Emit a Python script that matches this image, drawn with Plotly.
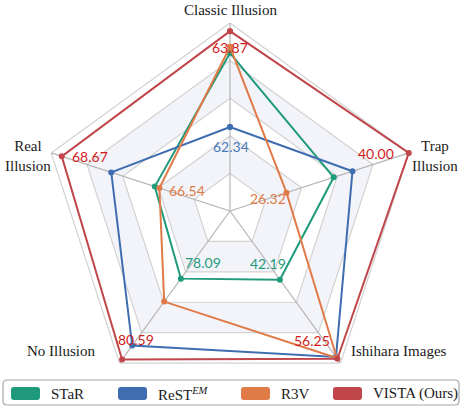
import plotly.graph_objects as go
import math

# Benchmark axes (clockwise from the top) and the value range shown on each spoke
axes = ["Classic Illusion", "Trap Illusion", "Ishihara Images", "No Illusion", "Real Illusion"]
axis_lo = [61.0, 20.0, 30.0, 76.0, 65.0]
axis_hi = [64.0, 40.0, 57.0, 80.7, 68.9]

# Accuracy of each method on each axis
methods = ["STaR", "ReST<sup><i>EM</i></sup>", "R3V", "VISTA (Ours)"]
star = [63.52, 31.60, 42.19, 78.09, 66.64]
rest_em = [62.34, 33.70, 55.90, 80.16, 67.59]
r3v = [63.62, 26.32, 56.10, 78.80, 66.54]
vista = [63.87, 40.00, 56.25, 80.59, 68.67]
series = [star, rest_em, r3v, vista]

line_colors = ["#1f9a7a", "#3f6eb0", "#e07a47", "#c0464b"]
text_colors = ["#1f9a7a", "#4a7ab8", "#e07a47", "#d01c1c"]

# Annotated values: (series index, axis index, x offset px, y offset px)
value_labels = [
    (3, 0, 0, 16), (1, 0, 1, 19),
    (3, 1, -33, 1), (2, 1, -19, 6),
    (3, 2, -25, -18), (0, 2, -12, -16),
    (3, 3, 14, -20), (0, 3, 22, -16),
    (3, 4, 28, 0), (2, 4, 28, 2),
]

W, H = 461, 408
CX, CY, R = 230, 211, 188
angles = [i * 72 for i in range(len(axes))]
closed = angles + [angles[0]]


def norm(vals):
    return [(v - lo) / (hi - lo) for v, lo, hi in zip(vals, axis_lo, axis_hi)]


def to_paper(px, py):
    return px / W, 1 - py / H


fig = go.Figure()

# alternating background bands
for level, col in [(0.8, "#f2f4fa"), (0.6, "#ffffff"), (0.4, "#f2f4fa"), (0.2, "#ffffff")]:
    fig.add_trace(go.Scatterpolar(r=[level] * 6, theta=closed, mode="lines", fill="toself",
                                  fillcolor=col, line=dict(width=0), hoverinfo="skip",
                                  showlegend=False))
# ring grid
for level in [0.2, 0.4, 0.6, 0.8, 1.0]:
    fig.add_trace(go.Scatterpolar(r=[level] * 6, theta=closed, mode="lines",
                                  line=dict(color="#d2d2d2", width=1.2), hoverinfo="skip",
                                  showlegend=False))
# spokes
for a in angles:
    fig.add_trace(go.Scatterpolar(r=[0, 1], theta=[a, a], mode="lines",
                                  line=dict(color="#b4b4b4", width=1.2), hoverinfo="skip",
                                  showlegend=False))

for name, vals, col in zip(methods, series, line_colors):
    rn = norm(vals)
    fig.add_trace(go.Scatterpolar(r=rn + [rn[0]], theta=closed, mode="lines+markers", name=name,
                                  line=dict(color=col, width=2), marker=dict(color=col, size=6),
                                  showlegend=False))

annotations = []
for si, ai, dx, dy in value_labels:
    v = series[si][ai]
    rn = norm(series[si])[ai]
    th = math.radians(angles[ai])
    px = CX + R * rn * math.sin(th) + dx
    py = CY - R * rn * math.cos(th) + dy
    x, y = to_paper(px, py)
    annotations.append(dict(x=x, y=y, xref="paper", yref="paper", text=f"{v:.2f}",
                            showarrow=False, xanchor="center", yanchor="middle",
                            font=dict(family="Lato", size=14, color=text_colors[si])))

# axis titles
axis_titles = [
    ("Classic Illusion", 230, 10),
    ("Trap<br>Illusion", 435, 156),
    ("Ishihara Images", 399, 351),
    ("No Illusion", 61, 351),
    ("Real<br>Illusion", 28, 156),
]
for txt, px, py in axis_titles:
    x, y = to_paper(px, py)
    annotations.append(dict(x=x, y=y, xref="paper", yref="paper", text=txt, showarrow=False,
                            xanchor="center", yanchor="middle", align="center",
                            font=dict(family="Liberation Serif", size=15, color="#1a1a1a")))

# legend box
shapes = []


def rounded_rect(x0, y0, x1, y1, rad):
    pts = []
    def p(px, py):
        x, y = to_paper(px, py)
        return f"{x:.5f},{y:.5f}"
    path = (f"M{p(x0 + rad, y0)} L{p(x1 - rad, y0)} Q{p(x1, y0)} {p(x1, y0 + rad)} "
            f"L{p(x1, y1 - rad)} Q{p(x1, y1)} {p(x1 - rad, y1)} L{p(x0 + rad, y1)} "
            f"Q{p(x0, y1)} {p(x0, y1 - rad)} L{p(x0, y0 + rad)} Q{p(x0, y0)} {p(x0 + rad, y0)} Z")
    return path


shapes.append(dict(type="path", xref="paper", yref="paper", path=rounded_rect(3, 380, 459, 405, 4),
                   line=dict(color="#a8a8a8", width=1.2), fillcolor="white"))
swatch_x = [11, 118, 241, 333]
for sx, name, col in zip(swatch_x, methods, line_colors):
    shapes.append(dict(type="path", xref="paper", yref="paper",
                       path=rounded_rect(sx, 387, sx + 29, 400, 3),
                       line=dict(width=0), fillcolor=col))
    x, y = to_paper(sx + 38, 393.5)
    annotations.append(dict(x=x, y=y, xref="paper", yref="paper", text=name, showarrow=False,
                            xanchor="left", yanchor="middle",
                            font=dict(family="Liberation Serif", size=15, color="#1a1a1a")))

fig.update_layout(
    width=W, height=H, autosize=False,
    margin=dict(l=0, r=0, t=0, b=0),
    paper_bgcolor="white",
    showlegend=False,
    polar=dict(
        domain=dict(x=[(CX - R) / W, (CX + R) / W], y=[1 - (CY + R) / H, 1 - (CY - R) / H]),
        gridshape="linear",
        bgcolor="white",
        radialaxis=dict(range=[0, 1], visible=False, showgrid=False),
        angularaxis=dict(rotation=90, direction="clockwise", showgrid=False, showline=False,
                         showticklabels=False, ticks=""),
    ),
    annotations=annotations,
    shapes=shapes,
)

fig.write_html("out.html")
